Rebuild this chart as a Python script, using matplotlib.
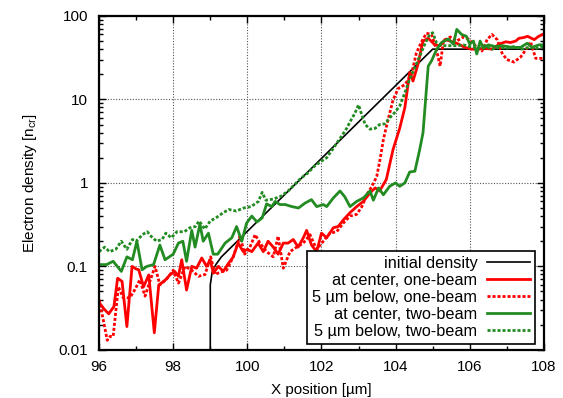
import matplotlib
matplotlib.use("Agg")
import matplotlib.pyplot as plt
from matplotlib.ticker import LogLocator, FixedLocator, NullFormatter

plt.rcParams["font.family"] = ["Liberation Sans", "DejaVu Sans"]

# initial density profile
x_init = [99.0, 99.0, 99.05, 99.15, 99.3, 105.0, 108.0]
n_init = [0.01, 0.06, 0.085, 0.105, 0.13, 40, 40]

# at center, one-beam
x_c1 = [96.0, 96.13, 96.26, 96.4, 96.5, 96.62, 96.75, 96.89, 97.0, 97.07, 97.2, 97.34, 97.49, 97.61,
        97.7, 97.79, 97.91, 98.04, 98.14, 98.23, 98.36, 98.5, 98.63, 98.77, 98.9, 99.0, 99.08, 99.22,
        99.35, 99.48, 99.62, 99.75, 99.89, 100.0, 100.12, 100.29, 100.43, 100.56, 100.7, 100.83, 100.97,
        101.1, 101.24, 101.37, 101.51, 101.6, 101.73, 101.87, 102.0, 102.14, 102.32, 102.45, 102.59,
        102.77, 102.95, 103.13, 103.31, 103.45, 103.57, 103.75, 103.93, 104.11, 104.25, 104.38, 104.47,
        104.6, 104.74, 104.88, 105.06, 105.2, 105.33, 105.47, 105.65, 105.87, 106.05, 106.23, 106.4,
        106.6, 106.8, 106.97, 107.1, 107.24, 107.33, 107.45, 107.56, 107.74, 107.86, 107.97, 108.0]
n_c1 = [0.037, 0.031, 0.027, 0.033, 0.072, 0.066, 0.019, 0.10, 0.093, 0.091, 0.057, 0.079, 0.016, 0.060,
        0.064, 0.069, 0.079, 0.087, 0.076, 0.12, 0.052, 0.10, 0.095, 0.126, 0.10, 0.12, 0.083, 0.10,
        0.087, 0.107, 0.13, 0.19, 0.15, 0.16, 0.15, 0.19, 0.15, 0.20, 0.17, 0.14, 0.19,
        0.19, 0.21, 0.17, 0.22, 0.27, 0.18, 0.15, 0.25, 0.22, 0.29, 0.30, 0.36,
        0.44, 0.52, 0.60, 0.76, 0.87, 0.8, 1.1, 2.5, 4.5, 8.0, 21, 16.6,
        26, 50, 54, 45, 44, 52, 50, 47, 42, 40, 40, 41,
        40, 46, 49, 48, 50, 54, 55, 57, 52, 57, 60, 61]

# 5 um below, one-beam
x_b1 = [96.0, 96.12, 96.22, 96.3, 96.38, 96.52, 96.65, 96.83, 96.97, 97.1, 97.24, 97.37, 97.51, 97.64,
        97.82, 98.0, 98.14, 98.32, 98.5, 98.68, 98.86, 99.01, 99.13, 99.26, 99.44, 99.62, 99.8, 99.93,
        100.07, 100.21, 100.34, 100.52, 100.7, 100.83, 100.97, 101.15, 101.33, 101.51, 101.69, 101.87,
        102.05, 102.23, 102.41, 102.59, 102.77, 102.95, 103.09, 103.22, 103.36, 103.49, 103.58, 103.67,
        103.75, 103.84, 103.93, 104.07, 104.25, 104.43, 104.56, 104.7, 104.83, 104.97, 105.1, 105.2,
        105.29, 105.47, 105.65, 105.83, 105.96, 106.1, 106.33, 106.47, 106.6, 106.74, 106.87, 107.0,
        107.19, 107.37, 107.56, 107.64, 107.78, 107.97, 108.0]
n_b1 = [0.040, 0.022, 0.013, 0.0145, 0.0145, 0.057, 0.042, 0.042, 0.053, 0.069, 0.044, 0.066, 0.10, 0.060,
        0.070, 0.090, 0.063, 0.10, 0.09, 0.076, 0.08, 0.13, 0.08, 0.085, 0.09, 0.13, 0.23, 0.14,
        0.17, 0.24, 0.19, 0.15, 0.13, 0.23, 0.095, 0.15, 0.17, 0.19, 0.24, 0.16,
        0.20, 0.25, 0.26, 0.33, 0.40, 0.42, 0.52, 0.72, 0.91, 1.19, 1.9, 3.3,
        4.7, 6.8, 9.8, 13.5, 15, 20, 36, 49, 62, 60, 40, 25,
        50, 56, 50, 56, 53, 46, 38, 52, 60, 52, 36, 30,
        28, 32, 42, 49, 31, 31, 31]

# at center, two-beam
x_c2 = [96.0, 96.2, 96.38, 96.6, 96.75, 96.9, 97.02, 97.16, 97.29, 97.47, 97.64, 97.78, 98.0, 98.14,
        98.26, 98.36, 98.5, 98.59, 98.72, 98.81, 98.95, 99.08, 99.2, 99.4, 99.58, 99.71, 99.85, 99.98,
        100.12, 100.26, 100.4, 100.52, 100.66, 100.75, 100.88, 101.02, 101.2, 101.38, 101.55, 101.73,
        101.87, 102.05, 102.14, 102.32, 102.5, 102.63, 102.77, 102.95, 103.13, 103.31, 103.4, 103.54,
        103.67, 103.84, 104.0, 104.11, 104.25, 104.38, 104.52, 104.65, 104.74, 104.83, 104.88, 104.97,
        105.11, 105.24, 105.42, 105.56, 105.65, 105.78, 105.91, 106.0, 106.1, 106.19, 106.28, 106.37,
        106.5, 106.68, 106.87, 107.14, 107.37, 107.55, 107.68, 107.86, 108.0]
n_c2 = [0.105, 0.105, 0.115, 0.087, 0.13, 0.12, 0.20, 0.091, 0.10, 0.105, 0.18, 0.12, 0.14, 0.19,
        0.20, 0.115, 0.27, 0.17, 0.32, 0.20, 0.25, 0.14, 0.14, 0.19, 0.22, 0.30, 0.20, 0.33,
        0.40, 0.34, 0.38, 0.56, 0.52, 0.60, 0.55, 0.55, 0.52, 0.50, 0.57, 0.63,
        0.52, 0.55, 0.52, 0.66, 0.80, 0.68, 0.52, 0.60, 0.66, 0.80, 0.62, 0.87,
        0.72, 0.91, 1.0, 0.91, 1.0, 1.35, 1.38, 2.5, 4.0, 13, 25, 29,
        40, 48, 53, 46, 69, 60, 57, 46, 50, 35, 50, 41,
        45, 43, 44, 42, 42, 47, 42, 45, 45]

# 5 um below, two-beam
x_b2 = [96.0, 96.15, 96.28, 96.45, 96.6, 96.75, 96.9, 97.0, 97.17, 97.3, 97.4, 97.55, 97.7, 97.8,
        97.95, 98.1, 98.3, 98.45, 98.6, 98.7, 98.85, 99.0, 99.15, 99.35, 99.5, 99.7, 99.9, 100.1,
        100.3, 100.4, 100.5, 100.7, 100.9, 101.1, 101.27, 101.45, 101.62, 101.8, 101.98, 102.14,
        102.32, 102.5, 102.68, 102.8, 102.9, 103.0, 103.09, 103.18, 103.31, 103.45, 103.57, 103.71,
        103.84, 103.98, 104.11, 104.25, 104.38, 104.52, 104.65, 104.79, 104.92, 105.0, 105.1, 105.24,
        105.42, 105.65, 105.83, 106.0, 106.2, 106.4, 106.6, 106.8, 107.0, 107.2, 107.4, 107.6,
        107.8, 108.0]
n_b2 = [0.15, 0.17, 0.15, 0.16, 0.20, 0.16, 0.21, 0.20, 0.24, 0.26, 0.23, 0.20, 0.21, 0.25,
        0.22, 0.26, 0.26, 0.29, 0.30, 0.35, 0.28, 0.35, 0.38, 0.44, 0.48, 0.46, 0.50, 0.52,
        0.60, 0.77, 0.62, 0.64, 0.69, 0.80, 0.95, 1.14, 1.3, 1.57, 1.8, 2.0,
        2.6, 3.4, 4.5, 5.7, 6.8, 8.6, 6.5, 5.0, 4.4, 4.5, 5.0, 5.1,
        6.0, 7.0, 8.3, 12, 17.5, 24, 33, 46, 60, 63, 48, 44,
        44, 44, 45, 43, 41, 44, 40, 42, 41, 43, 40, 42,
        41, 43]

red = "#ff0000"
green = "#228b22"
dots = (0, (1.1, 0.7))

fig = plt.figure(figsize=(5.63, 3.98), dpi=100)
ax = fig.add_axes([0.176, 0.121, 0.79, 0.839])

ax.plot(x_init, n_init, color="black", lw=1.2, label="initial density")
ax.plot(x_c1, n_c1, color=red, lw=2, label="at center, one-beam")
ax.plot(x_b1, n_b1, color=red, lw=2, ls=dots, label="5 µm below, one-beam")
ax.plot(x_c2, n_c2, color=green, lw=2, label="at center, two-beam")
ax.plot(x_b2, n_b2, color=green, lw=2, ls=dots, label="5 µm below, two-beam")

ax.set_yscale("log")
ax.set_xlim(96, 108)
ax.set_ylim(0.01, 100)
ax.set_xticks([96, 98, 100, 102, 104, 106, 108])
ax.xaxis.set_minor_locator(FixedLocator([97, 99, 101, 103, 105, 107]))
ax.yaxis.set_major_locator(FixedLocator([0.01, 0.1, 1, 10, 100]))
ax.set_yticklabels(["0.01", "0.1", "1", "10", "100"])
ax.yaxis.set_minor_locator(LogLocator(base=10, subs=range(2, 10)))
ax.yaxis.set_minor_formatter(NullFormatter())

ax.tick_params(which="both", direction="in", top=True, right=True, labelsize=11, colors="black")
ax.tick_params(which="major", length=5, width=1)
ax.tick_params(which="minor", length=3, width=1)
ax.tick_params(axis="x", which="major", pad=7)
ax.tick_params(axis="y", which="major", pad=8)
for s in ax.spines.values():
    s.set_linewidth(1.6)

ax.grid(True, which="major", color="#555555", ls=(0, (1, 1.5)), lw=0.8)

ax.set_xlabel("X position [µm]", fontsize=11, labelpad=7)
ax.set_ylabel("Electron density [n$_\\mathregular{cr}$]", fontsize=11, labelpad=14)

leg = ax.legend(loc="lower right", bbox_to_anchor=(0.98, 0.018), markerfirst=False, fontsize=11.7,
                frameon=True, fancybox=False, framealpha=1, edgecolor="black",
                handlelength=2.65, handletextpad=0.6, labelspacing=0.12, borderpad=0.3,
                borderaxespad=0)
leg.get_frame().set_linewidth(1.2)
for t in leg.get_texts():
    t.set_ha("right")
leg._legend_box.align = "right"

fig.savefig("out.png", dpi=100)
